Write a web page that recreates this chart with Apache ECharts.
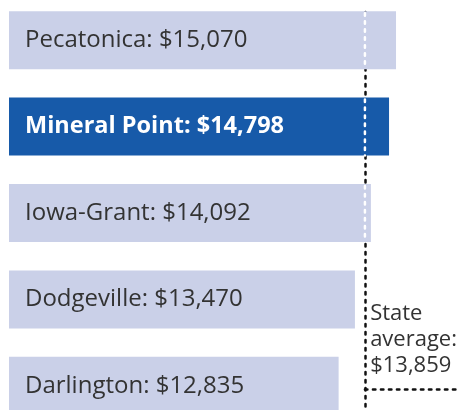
<!DOCTYPE html>
<html>
<head>
<meta charset="utf-8">
<script src="https://cdn.jsdelivr.net/npm/echarts@6/dist/echarts.min.js"></script>
<style>
  html, body { margin: 0; padding: 0; background: #fff; }
  #chart { width: 461px; height: 410px; }
</style>
</head>
<body>
<div id="chart"></div>
<script>
// data
const districts = ['Pecatonica', 'Mineral Point', 'Iowa-Grant', 'Dodgeville', 'Darlington']
const spending = [15070, 14798, 14092, 13470, 12835]
const highlighted = 'Mineral Point'
const stateAverage = 13859
const stateLabel = ['State', 'average:', '$13,859']

const fontFamily = 'Open Sans'
const lightBar = '#cad0e8'
const darkBar = '#175aa9'
const textColor = '#333333'
const barWidth = 58
const dots = { lineWidth: 2.5, lineDash: [2.5, 5.5], lineCap: 'round' }

const fmt = v => '$' + v.toLocaleString('en-US')

const chart = echarts.init(document.getElementById('chart'))

const option = {
  animation: false,
  grid: { left: 9, right: 0, top: -3, height: 432, outerBoundsMode: 'none', containLabel: false },
  xAxis: {
    type: 'value',
    min: 0,
    max: 17600,
    show: false
  },
  yAxis: {
    type: 'category',
    data: districts,
    inverse: true,
    show: false
  },
  graphic: [{
    type: 'text',
    right: 4,
    top: 301,
    style: {
      text: stateLabel.join('\n'),
      align: 'right',
      fontFamily: fontFamily,
      fontSize: 22,
      lineHeight: 26,
      fill: textColor
    }
  }],
  series: [
    {
      // black dotted reference line, drawn under the bars
      type: 'bar',
      data: [],
      z: 1,
      markLine: {
        silent: true,
        z: 1,
        symbol: 'none',
        label: { show: false },
        lineStyle: { color: '#111', type: dots.lineDash, width: dots.lineWidth, cap: 'round' },
        data: [
          [{ xAxis: stateAverage, y: 12 }, { xAxis: stateAverage, y: 410 }],
          [{ xAxis: stateAverage, y: 389 }, { x: 458, y: 389 }]
        ]
      }
    },
    {
      type: 'bar',
      barWidth: barWidth,
      barGap: '-100%',
      z: 2,
      data: districts.map((d, i) => ({
        value: spending[i],
        itemStyle: { color: d === highlighted ? darkBar : lightBar },
        label: d === highlighted
          ? { color: '#fff', fontWeight: 'bold', fontSize: 23.5 }
          : { color: textColor, fontWeight: 'normal' }
      })),
      label: {
        show: true,
        position: 'insideLeft',
        distance: 16,
        fontFamily: fontFamily,
        fontSize: 24,
        formatter: p => districts[p.dataIndex] + ': ' + fmt(p.value)
      }
    },
    {
      // white dots where the reference line crosses a bar
      type: 'custom',
      z: 3,
      silent: true,
      data: spending.map((v, i) => [v, i]),
      encode: { x: 0, y: 1 },
      renderItem: (params, api) => {
        if (api.value(0) < stateAverage) return
        const pt = api.coord([stateAverage, api.value(1)])
        return {
          type: 'line',
          shape: { x1: pt[0], y1: pt[1] - barWidth / 2 + 2, x2: pt[0], y2: pt[1] + barWidth / 2 },
          style: { stroke: '#fff', ...dots }
        }
      }
    }
  ]
}

chart.setOption(option)
</script>
</body>
</html>
